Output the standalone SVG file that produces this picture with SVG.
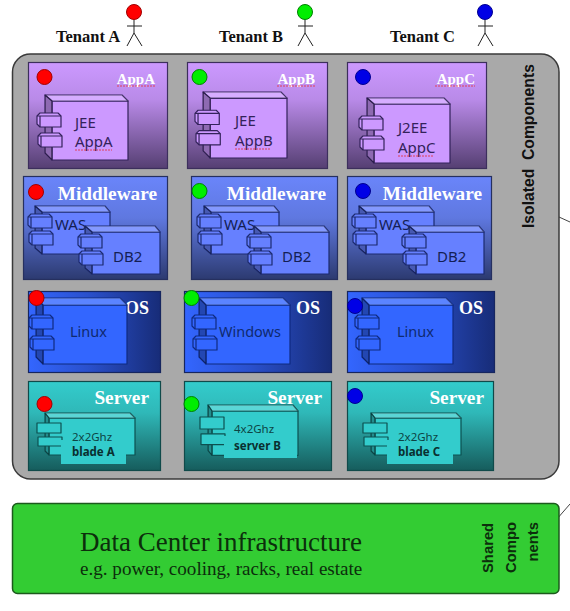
<svg xmlns="http://www.w3.org/2000/svg" xmlns:xlink="http://www.w3.org/1999/xlink" width="570" height="611" viewBox="0 0 570 611">
<style>
defs *{vector-effect:non-scaling-stroke}
.cp{stroke-width:1.2;stroke-linejoin:round}
.ca{fill:#cc99ff;stroke:#33225a}
.cm{fill:#6680ff;stroke:#1c2a70}
.co{fill:#3366ff;stroke:#0f2a80}
.cs{fill:#33cccc;stroke:#0d5050}
.p{stroke-width:1.2}
.pa{fill:url(#ga);stroke:#3c2f5c}
.pm{fill:url(#gm);stroke:#26305f}
.po{fill:url(#go);stroke:#16265f}
.ps{fill:url(#gs);stroke:#104a4a}
.h{font:bold 16px "Liberation Serif",serif;fill:#fff;text-anchor:end}
.hb{font-size:19.300px}
.hos{font-size:18px}
.ha{font-size:15px}
.t{font:15px "Noto Sans",sans-serif}
.ta{fill:#33225a}
.tm{fill:#141e55}
.to{fill:#0f2a70;font-size:14.500px}
.ts{font-size:11.500px;fill:#0d4444}
.tb{font-weight:bold;fill:#0a3030}
.w{fill:none;stroke:#e0405a;stroke-width:1.2;stroke-dasharray:2 1}
.r{fill:#ff0000;stroke:#a00000}
.g{fill:#00ee00;stroke:#008000}
.b{fill:#0000e6;stroke:#000090}
.ten{font:bold 16.500px "Liberation Serif",serif;fill:#111}
.fig{fill:none;stroke:#222;stroke-width:1}
.lab{font:bold 15.700px "Liberation Sans",sans-serif;fill:#111}
.sh{font:bold 14.800px "Liberation Sans",sans-serif;fill:#0c2e0c}
.lead{fill:none;stroke:#444;stroke-width:1}
</style>
<defs>
<linearGradient id="ga" x1="0" y1="0" x2="0" y2="1"><stop offset="0" stop-color="#cc99ff"/><stop offset=".35" stop-color="#b98ae8"/><stop offset="1" stop-color="#553f72"/></linearGradient>
<linearGradient id="gm" x1="0" y1="0" x2="0" y2="1"><stop offset="0" stop-color="#6a85fa"/><stop offset=".4" stop-color="#5f78e0"/><stop offset="1" stop-color="#2c3a70"/></linearGradient>
<linearGradient id="go" x1="0" y1="0" x2="1" y2="0"><stop offset="0" stop-color="#3366ff"/><stop offset=".45" stop-color="#2a50cc"/><stop offset="1" stop-color="#172c78"/></linearGradient>
<linearGradient id="gs" x1="0" y1="0" x2="0" y2="1"><stop offset="0" stop-color="#33cccc"/><stop offset=".35" stop-color="#2fb8b8"/><stop offset="1" stop-color="#165c5c"/></linearGradient>
<g id="port"><path d="M0 3L3 0H21L24 3V14H3L0 11Z"/><path d="M3 14V3H24M0 3H3" fill="none"/></g>
<g id="comp">
<rect x="15" y="6" width="76" height="59"/>
<polygon points="8,0 85,0 91,6 15,6"/>
<polygon points="8,0 85,0 91,6 15,6" fill="#fff" fill-opacity=".2" stroke="none"/>
<polygon points="8,0 15,6 15,65 8,58"/>
<polygon points="8,0 15,6 15,65 8,58" fill="#000" fill-opacity=".3" stroke="none"/>
<use href="#port" xlink:href="#port" x="0" y="18"/>
<use href="#port" xlink:href="#port" x="1" y="38"/>
</g>
<g id="compM">
<rect x="14" y="6" width="68" height="42"/>
<polygon points="7,0 77,0 82,6 14,6"/>
<polygon points="7,0 77,0 82,6 14,6" fill="#fff" fill-opacity=".2" stroke="none"/>
<polygon points="7,0 14,6 14,48 7,42"/>
<polygon points="7,0 14,6 14,48 7,42" fill="#000" fill-opacity=".3" stroke="none"/>
<use href="#port" xlink:href="#port" x="0" y="8"/>
<use href="#port" xlink:href="#port" x="1" y="25"/>
</g>
<g id="compO">
<rect x="14" y="7" width="84" height="59"/>
<polygon points="7,0 91,0 98,7 14,7"/>
<polygon points="7,0 91,0 98,7 14,7" fill="#fff" fill-opacity=".2" stroke="none"/>
<polygon points="7,0 14,7 14,66 7,59"/>
<polygon points="7,0 14,7 14,66 7,59" fill="#000" fill-opacity=".3" stroke="none"/>
<use href="#port" xlink:href="#port" x="0" y="17"/>
<use href="#port" xlink:href="#port" x="1" y="38"/>
</g>
<g id="compS">
<rect x="12" y="5" width="86" height="37"/>
<polygon points="8,0 93,0 98,5 12,5"/>
<polygon points="8,0 93,0 98,5 12,5" fill="#fff" fill-opacity=".2" stroke="none"/>
<polygon points="8,0 12,5 12,42 8,38"/>
<polygon points="8,0 12,5 12,42 8,38" fill="#000" fill-opacity=".3" stroke="none"/>
<rect x="0" y="10" width="24" height="10"/>
<rect x="1" y="24" width="24" height="9"/>
</g>
</defs>
<rect width="570" height="611" fill="#fff"/>

<g id="connectors">
<path class="lead" d="M559 217L570 222"/>
<path class="lead" d="M543 535L570 504"/>
</g>

<g id="tenant-a">
<path class="fig" d="M134 20V33M127 26H142M134 33L127 46M134 33L142 46"/>
<circle class="r" cx="134" cy="12" r="7.500"/>
<text class="ten" x="56" y="42">Tenant A</text>
</g>
<g id="tenant-b">
<path class="fig" d="M305 20V33M298 26H313M305 33L298 46M305 33L313 46"/>
<circle class="g" cx="305" cy="12" r="7.500"/>
<text class="ten" x="219" y="42">Tenant B</text>
</g>
<g id="tenant-c">
<path class="fig" d="M485 20V33M478 26H493M485 33L478 46M485 33L493 46"/>
<circle class="b" cx="485" cy="12" r="7.500"/>
<text class="ten" x="390" y="42">Tenant C</text>
</g>

<g id="isolated-components">
<rect x="12.500" y="54" width="546.500" height="425" rx="18" fill="#a9a9a9" stroke="#3a3a3a" stroke-width="1.500"/>
<text class="lab" transform="translate(534,228) rotate(-90)" xml:space="preserve">Isolated  Components</text>
</g>

<g id="app-a">
<rect class="p pa" x="28.500" y="62.500" width="139" height="106"/>
<text class="h ha" x="155" y="84">AppA</text>
<path class="w" d="M117 86H155"/>
<use class="cp ca" xlink:href="#comp" href="#comp" transform="translate(37,95)"/>
<text class="t ta" x="75" y="128">JEE</text>
<text class="t ta" x="75" y="147">AppA</text>
<path class="w" d="M75 150H112"/>
<circle class="r" cx="44.500" cy="77" r="7.500"/>
</g>
<g id="app-b">
<rect class="p pa" x="187.500" y="62.500" width="140" height="106"/>
<text class="h ha" x="315" y="84">AppB</text>
<path class="w" d="M277 86H315"/>
<use class="cp ca" xlink:href="#comp" href="#comp" transform="translate(195,92) scale(1.011,1.015)"/>
<text class="t ta" x="235" y="126">JEE</text>
<text class="t ta" x="235" y="146">AppB</text>
<path class="w" d="M235 149H270"/>
<circle class="g" cx="199.500" cy="77" r="7.500"/>
</g>
<g id="app-c">
<rect class="p pa" x="347.500" y="62.500" width="139" height="106"/>
<text class="h ha" x="475" y="84">AppC</text>
<path class="w" d="M435 86H475"/>
<use class="cp ca" xlink:href="#comp" href="#comp" transform="translate(359,98)"/>
<text class="t ta" x="398" y="133">J2EE</text>
<text class="t ta" x="398" y="153">AppC</text>
<path class="w" d="M398 156H434"/>
<circle class="b" cx="363" cy="77" r="7.500"/>
</g>

<g id="middleware-a">
<rect class="p pm" x="23.500" y="176.500" width="144" height="103"/>
<text class="h hb" x="157" y="200">Middleware</text>
<use class="cp cm" xlink:href="#compM" href="#compM" transform="translate(28,206)"/>
<text class="t tm" x="55" y="230">WAS</text>
<use class="cp cm" xlink:href="#compM" href="#compM" transform="translate(78,226)"/>
<text class="t tm" x="113" y="262">DB2</text>
<circle class="r" cx="36" cy="192" r="7.500"/>
</g>
<g id="middleware-b">
<rect class="p pm" x="191.500" y="176.500" width="146" height="103"/>
<text class="h hb" x="326" y="200">Middleware</text>
<use class="cp cm" xlink:href="#compM" href="#compM" transform="translate(197,206)"/>
<text class="t tm" x="224" y="230">WAS</text>
<use class="cp cm" xlink:href="#compM" href="#compM" transform="translate(247,226)"/>
<text class="t tm" x="282" y="262">DB2</text>
<circle class="g" cx="199.500" cy="191" r="7.500"/>
</g>
<g id="middleware-c">
<rect class="p pm" x="347.500" y="176.500" width="144" height="103"/>
<text class="h hb" x="482" y="200">Middleware</text>
<use class="cp cm" xlink:href="#compM" href="#compM" transform="translate(352,206)"/>
<text class="t tm" x="379" y="230">WAS</text>
<use class="cp cm" xlink:href="#compM" href="#compM" transform="translate(402,226)"/>
<text class="t tm" x="437" y="262">DB2</text>
<circle class="b" cx="363" cy="191" r="7.500"/>
</g>

<g id="os-a">
<rect class="p po" x="28.500" y="291.500" width="132" height="81"/>
<text class="h hos" x="149" y="314">OS</text>
<use class="cp co" xlink:href="#compO" href="#compO" transform="translate(29,298)"/>
<text class="t to" x="70" y="337">Linux</text>
<circle class="r" cx="36.500" cy="298" r="7.500"/>
</g>
<g id="os-b">
<rect class="p po" x="184.500" y="291.500" width="147" height="81"/>
<text class="h hos" x="320" y="314">OS</text>
<use class="cp co" xlink:href="#compO" href="#compO" transform="translate(192,298)"/>
<text class="t to" x="219" y="337">Windows</text>
<circle class="g" cx="191.500" cy="298" r="7.500"/>
</g>
<g id="os-c">
<rect class="p po" x="347.500" y="291.500" width="147" height="81"/>
<text class="h hos" x="483" y="314">OS</text>
<use class="cp co" xlink:href="#compO" href="#compO" transform="translate(355,298)"/>
<text class="t to" x="397" y="337">Linux</text>
<circle class="b" cx="355" cy="306" r="7.500"/>
</g>

<g id="server-a">
<rect class="p ps" x="28.500" y="381.500" width="132" height="89"/>
<text class="h hb" x="149" y="404">Server</text>
<use class="cp cs" xlink:href="#compS" href="#compS" transform="translate(37,413)"/>
<rect x="61" y="440" width="65" height="24" fill="#33cccc"/>
<text class="t ts" x="72" y="441">2x2Ghz</text>
<text class="t ts tb" x="72" y="456">blade A</text>
<circle class="r" cx="44.500" cy="404" r="7.500"/>
</g>
<g id="server-b">
<rect class="p ps" x="184.500" y="381.500" width="147" height="89"/>
<text class="h hb" x="322" y="404">Server</text>
<use class="cp cs" xlink:href="#compS" href="#compS" transform="translate(200,405) scale(1,1.2)"/>
<rect x="224" y="436" width="73" height="22" fill="#33cccc"/>
<text class="t ts" x="234" y="433">4x2Ghz</text>
<text class="t ts tb" x="234" y="450">server B</text>
<circle class="g" cx="191.500" cy="404" r="7.500"/>
</g>
<g id="server-c">
<rect class="p ps" x="347.500" y="381.500" width="146" height="89"/>
<text class="h hb" x="484" y="404">Server</text>
<use class="cp cs" xlink:href="#compS" href="#compS" transform="translate(363,413)"/>
<rect x="387" y="440" width="66" height="24" fill="#33cccc"/>
<text class="t ts" x="398" y="441">2x2Ghz</text>
<text class="t ts tb" x="398" y="456">blade C</text>
<circle class="b" cx="355" cy="396" r="7.500"/>
</g>

<g id="data-center">
<rect x="12.500" y="503.500" width="546.500" height="90" rx="5" fill="#33cc33" stroke="#1c5a1c" stroke-width="1.500"/>
<text x="80" y="551" font-family="Liberation Serif, serif" font-size="27" fill="#0c2e0c">Data Center infrastructure</text>
<text x="80" y="575" font-family="Liberation Serif, serif" font-size="19.100" fill="#0c2e0c">e.g. power, cooling, racks, real estate</text>
<text class="sh" transform="translate(493,573) rotate(-90)">Shared</text>
<text class="sh" transform="translate(516,573) rotate(-90)">Compo</text>
<text class="sh" text-anchor="end" transform="translate(538,522) rotate(-90)">nents</text>
</g>
</svg>
